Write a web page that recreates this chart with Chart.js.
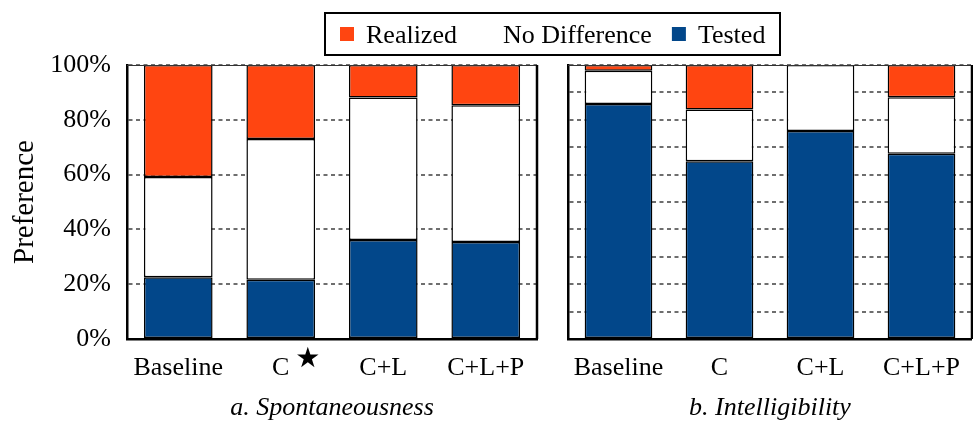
<!DOCTYPE html>
<html>
<head>
<meta charset="utf-8">
<script src="https://cdn.jsdelivr.net/npm/chart.js@4/dist/chart.umd.min.js"></script>
<style>
  html, body { margin: 0; padding: 0; background: #fff; overflow: hidden; }
  #wrap { position: relative; width: 973px; height: 424px; overflow: hidden; }
  canvas { position: absolute; top: 0; }
  #cA { left: 0; }
  #cB { left: 540px; }
</style>
</head>
<body>
<div id="wrap">
  <canvas id="cA" width="973" height="424"></canvas>
  <canvas id="cB" width="434" height="424"></canvas>
</div>
<script>
// ---- data ----
const categories = ['Baseline', 'C', 'C+L', 'C+L+P'];
const seriesNames = ['Tested', 'No Difference', 'Realized'];
const seriesColors = ['#02478A', '#FFFFFF', '#FF4511'];

const spontTested   = [22.5, 21.6, 36.1, 35.4];
const spontNoDiff   = [36.6, 51.4, 52.0, 49.9];
const spontRealized = [40.9, 27.0, 11.9, 14.7];

const intelTested   = [85.8, 64.9, 75.9, 67.6];
const intelNoDiff   = [12.1, 18.9, 24.1, 20.6];
const intelRealized = [2.1, 16.2, 0.0, 11.8];

const yTickValues = [0, 20, 40, 60, 80, 100];
const yAxisTitle = 'Preference';
const panelTitles = ['a. Spontaneousness', 'b. Intelligibility'];
const starredCategory = 'C';

const SERIF = '"Liberation Serif", "Times New Roman", serif';

function makeDatasets(vals) {
  return vals.map((v, i) => ({
    label: seriesNames[i],
    data: v,
    backgroundColor: seriesColors[i],
    borderColor: '#000',
    borderWidth: 1.5,
    borderSkipped: false,
    barPercentage: 0.67,
    categoryPercentage: 1.0
  }));
}

const framePlugin = {
  id: 'frame',
  afterDatasetsDraw(chart) {
    const a = chart.chartArea, ctx = chart.ctx;
    ctx.save();
    ctx.strokeStyle = '#333';
    ctx.lineWidth = 1;
    ctx.beginPath();
    ctx.moveTo(a.left, a.top + 0.5);
    ctx.lineTo(a.right, a.top + 0.5);
    ctx.stroke();
    ctx.strokeStyle = '#000';
    ctx.lineWidth = 2.5;
    ctx.beginPath();
    ctx.moveTo(a.right, a.top);
    ctx.lineTo(a.right, a.bottom);
    ctx.stroke();
    ctx.restore();
  }
};

const legendPlugin = {
  id: 'customLegend',
  afterDraw(chart) {
    const ctx = chart.ctx;
    const ds = chart.data.datasets.slice().reverse();
    ctx.save();
    ctx.font = '26px ' + SERIF;
    const marker = 14, mGap = 12, iGap = 20, padX = 15;
    const widths = ds.map(d => ctx.measureText(d.label).width);
    let total = padX * 2 + iGap * (ds.length - 1);
    widths.forEach(w => total += marker + mGap + w);
    const cx = 552.5, top = 13, h = 42;
    const left = Math.round(cx - total / 2);
    ctx.fillStyle = '#fff';
    ctx.fillRect(left, top, total, h);
    ctx.strokeStyle = '#000';
    ctx.lineWidth = 2;
    ctx.strokeRect(left, top, Math.round(total), h);
    let x = left + padX;
    const cy = top + h / 2;
    ds.forEach((d, i) => {
      ctx.fillStyle = d.backgroundColor;
      ctx.fillRect(x, cy - 7, marker, marker);
      x += marker + mGap;
      ctx.fillStyle = '#000';
      ctx.textBaseline = 'middle';
      ctx.textAlign = 'left';
      ctx.fillText(d.label, x, cy + 2);
      x += widths[i] + iGap;
    });
    ctx.restore();
  }
};

const starPlugin = {
  id: 'star',
  afterDraw(chart) {
    const xs = chart.scales.x;
    const idx = categories.indexOf(starredCategory);
    const px = xs.getPixelForValue(idx) + 27;
    const py = chart.chartArea.bottom + 21;
    const ctx = chart.ctx;
    ctx.save();
    ctx.font = '28px "DejaVu Sans"';
    ctx.fillStyle = '#000';
    ctx.textAlign = 'center';
    ctx.textBaseline = 'middle';
    ctx.fillText('\u2605', px, py);
    ctx.restore();
  }
};

function makeOptions(showY, title, padRight, yWidth) {
  return {
    responsive: false,
    animation: false,
    devicePixelRatio: 1,
    layout: { padding: { top: 65, right: padRight, bottom: 0, left: 0 } },
    plugins: { legend: { display: false }, tooltip: { enabled: false } },
    scales: {
      x: {
        stacked: true,
        grid: { display: false, drawTicks: false },
        border: { display: true, color: '#000', width: 2.5 },
        ticks: {
          color: '#000',
          font: { family: SERIF, size: 26 },
          padding: 14,
          maxRotation: 0
        },
        title: {
          display: true,
          text: title,
          color: '#000',
          font: { family: SERIF, size: 26, style: 'italic' },
          padding: { top: 0, bottom: 0 }
        },
        afterFit(s) { s.height = 85; }
      },
      y: {
        stacked: true,
        min: 0,
        max: 100,
        grid: { color: '#6e6e6e', lineWidth: 2, drawTicks: false },
        border: { display: true, color: '#000', width: 2.5, dash: [4, 3.5] },
        ticks: {
          display: showY,
          stepSize: 10,
          color: '#000',
          padding: 16,
          font: { family: SERIF, size: 26 },
          callback: (v) => yTickValues.includes(v) ? v + '%' : ''
        },
        title: {
          display: showY,
          text: yAxisTitle,
          color: '#000',
          font: { family: SERIF, size: 29 },
          padding: { top: 8, bottom: 0 }
        },
        afterFit(s) { s.width = yWidth; }
      }
    }
  };
}

new Chart(document.getElementById('cA'), {
  type: 'bar',
  data: { labels: categories, datasets: makeDatasets([spontTested, spontNoDiff, spontRealized]) },
  options: makeOptions(true, panelTitles[0], 973 - 537, 127),
  plugins: [framePlugin, legendPlugin, starPlugin]
});

new Chart(document.getElementById('cB'), {
  type: 'bar',
  data: { labels: categories, datasets: makeDatasets([intelTested, intelNoDiff, intelRealized]) },
  options: makeOptions(false, panelTitles[1], 0, 28),
  plugins: [framePlugin]
});
</script>
</body>
</html>
